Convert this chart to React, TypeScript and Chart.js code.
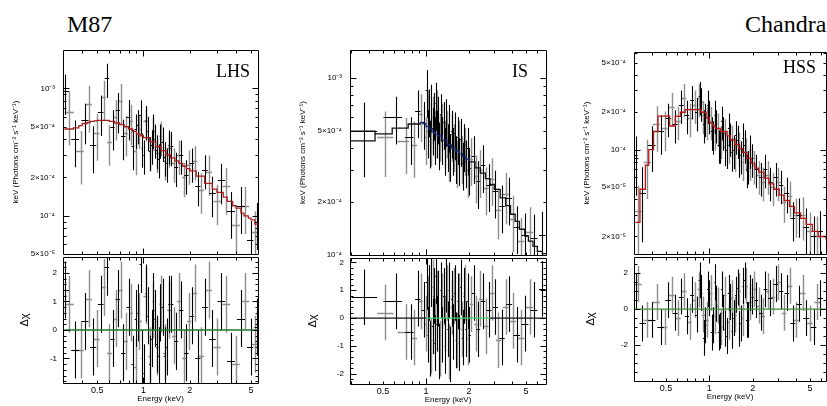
import React, { useEffect, useRef } from "react";
import { Chart, registerables } from "chart.js";

Chart.register(...registerables);

// ================= DATA =================
const xTickValues = [0.5, 1, 2, 5];
const xTickLabels = ["0.5", "1", "2", "5"];

// ---- LHS ----
const lhsXRange = [0.306, 5.55];
const lhsYRange = [5e-5, 2.0e-3];
const lhsResRange = [-1.86, 2.56];
const lhsYTicks = [5e-5, 1e-4, 2e-4, 5e-4, 1e-3];
const lhsYLabels = ["5×10⁻⁵", "10⁻⁴", "2×10⁻⁴", "5×10⁻⁴", "10⁻³"];
const lhsResTicks = [-1, 0, 1, 2];
const lhsResLabels = ["-1", "0", "1", "2"];

const lhsBlackE = [0.31, 0.36, 0.42, 0.47, 0.53, 0.58, 0.63, 0.68, 0.74, 0.8, 0.86, 0.89, 0.92, 0.96, 0.98, 1.01, 1.04, 1.07, 1.1, 1.13, 1.16, 1.19, 1.22, 1.26, 1.29, 1.33, 1.37, 1.42, 1.47, 1.52, 1.63, 1.76, 1.9, 2.06, 2.25, 2.5, 2.8, 3.2, 3.7, 4.3, 5.0, 5.45];
const lhsBlackF = [9.5e-4, 4.0e-4, 5.6e-4, 3.6e-4, 6.5e-4, 1.2e-3, 5.0e-4, 6.8e-4, 4.2e-4, 6.0e-4, 3.5e-4, 4.8e-4, 5.2e-4, 6.2e-4, 3.4e-4, 3.0e-4, 5.6e-4, 4.6e-4, 3.2e-4, 3.6e-4, 4.8e-4, 4.0e-4, 3.3e-4, 2.8e-4, 4.0e-4, 3.8e-4, 2.9e-4, 2.6e-4, 3.6e-4, 3.5e-4, 2.4e-4, 3.0e-4, 2.1e-4, 2.6e-4, 1.7e-4, 2.3e-4, 1.5e-4, 1.9e-4, 1.1e-4, 1.2e-4, 6.5e-5, 9.0e-5];
const lhsBlackErr = [0.35, 0.4, 0.35, 0.4, 0.35, 0.3, 0.35, 0.35, 0.35, 0.35, 0.35, 0.3, 0.3, 0.3, 0.3, 0.3, 0.3, 0.3, 0.3, 0.3, 0.3, 0.3, 0.3, 0.3, 0.3, 0.3, 0.3, 0.3, 0.3, 0.3, 0.3, 0.3, 0.3, 0.3, 0.3, 0.3, 0.35, 0.35, 0.4, 0.4, 0.4, 0.4];
const lhsBlackRes = [1.4, -0.7, 0.3, -0.6, 0.9, 2.2, -0.3, 1.1, -0.8, 0.8, -1.2, 0.4, 0.6, 2.3, -1.0, -1.5, 1.3, 0.5, -1.2, -0.3, 1.0, 0.4, -0.5, -0.9, 0.6, 0.8, -0.9, -0.6, 0.9, 0.9, -0.4, 0.7, -0.8, 0.5, -1.0, 0.8, -0.3, 1.0, -1.1, 0.4, -0.6, 0.1];

const lhsGrayE = [0.33, 0.39, 0.44, 0.5, 0.55, 0.6, 0.66, 0.71, 0.77, 0.83, 0.89, 0.94, 1.04, 1.1, 1.16, 1.23, 1.3, 1.37, 1.47, 1.57, 1.7, 1.83, 1.98, 2.15, 2.37, 2.65, 3.0, 3.45, 4.0, 4.6, 5.3];
const lhsGrayF = [6.5e-4, 3.2e-4, 7.5e-4, 4.5e-4, 8.5e-4, 3.8e-4, 6.0e-4, 8.0e-4, 4.5e-4, 5.5e-4, 3.2e-4, 4.8e-4, 5.5e-4, 3.2e-4, 4.6e-4, 3.1e-4, 4.2e-4, 2.7e-4, 3.4e-4, 2.6e-4, 3.0e-4, 2.0e-4, 2.5e-4, 2.7e-4, 1.6e-4, 2.2e-4, 1.3e-4, 1.7e-4, 8.5e-5, 1.2e-4, 7.5e-5];
const lhsGrayErr = [0.45, 0.45, 0.4, 0.4, 0.35, 0.35, 0.35, 0.35, 0.35, 0.35, 0.35, 0.3, 0.3, 0.3, 0.3, 0.3, 0.3, 0.3, 0.3, 0.3, 0.3, 0.3, 0.3, 0.3, 0.35, 0.35, 0.35, 0.4, 0.4, 0.4, 0.45];
const lhsGrayRes = [0.9, -0.7, 1.1, -0.3, 1.5, -0.8, 0.4, 1.4, -0.4, 0.6, -1.3, 0.3, 1.2, -0.9, 0.7, -0.6, 0.9, -0.8, 0.7, -0.2, 1.0, -1.0, 0.3, 1.3, -0.9, 1.4, -0.6, 0.9, -1.2, 1.0, -0.5];

const lhsModelE = [0.306, 0.33, 0.35, 0.38, 0.4, 0.43, 0.45, 0.48, 0.5, 0.55, 0.6, 0.65, 0.7, 0.75, 0.8, 0.85, 0.9, 0.95, 1.0, 1.1, 1.2, 1.3, 1.4, 1.5, 1.6, 1.7, 1.8, 1.9, 2.0, 2.2, 2.5, 2.8, 3.0, 3.3, 3.5, 3.8, 4.0, 4.3, 4.5, 4.8, 5.0, 5.3, 5.55];
const lhsModelF = [4.8e-4, 4.8e-4, 4.9e-4, 5.1e-4, 5.3e-4, 5.4e-4, 5.5e-4, 5.55e-4, 5.6e-4, 5.6e-4, 5.5e-4, 5.35e-4, 5.2e-4, 5.0e-4, 4.8e-4, 4.6e-4, 4.4e-4, 4.25e-4, 4.1e-4, 3.8e-4, 3.5e-4, 3.25e-4, 3.0e-4, 2.85e-4, 2.7e-4, 2.58e-4, 2.45e-4, 2.35e-4, 2.25e-4, 2.05e-4, 1.8e-4, 1.62e-4, 1.53e-4, 1.4e-4, 1.3e-4, 1.2e-4, 1.15e-4, 1.05e-4, 1.0e-4, 9.6e-5, 9.3e-5, 8.6e-5, 8.6e-5];

// ---- IS ----
const isXRange = [0.294, 6.9];
const isYRange = [1e-4, 1.43e-3];
const isResRange = [-2.37, 2.16];
const isYTicks = [1e-4, 2e-4, 5e-4, 1e-3];
const isYLabels = ["10⁻⁴", "2×10⁻⁴", "5×10⁻⁴", "10⁻³"];
const isResTicks = [-2, -1, 0, 1, 2];
const isResLabels = ["-2", "-1", "0", "1", "2"];

const isBlackE = [0.37, 0.62, 0.78, 0.88, 0.97, 1.01, 1.03, 1.05, 1.07, 1.09, 1.11, 1.13, 1.15, 1.17, 1.19, 1.21, 1.24, 1.27, 1.3, 1.33, 1.36, 1.39, 1.42, 1.45, 1.48, 1.51, 1.55, 1.59, 1.63, 1.67, 1.71, 1.75, 1.8, 1.85, 1.9, 1.95, 2.0, 2.15, 2.32, 2.5, 2.75, 3.05, 3.4, 3.8, 4.3, 4.9, 5.7, 6.5];
const isBlackF = [5.0e-4, 6.0e-4, 4.6e-4, 6.5e-4, 5.6e-4, 8.5e-4, 5.0e-4, 6.6e-4, 4.4e-4, 7.0e-4, 5.2e-4, 6.3e-4, 4.6e-4, 7.2e-4, 5.0e-4, 6.0e-4, 4.3e-4, 6.2e-4, 4.6e-4, 5.6e-4, 4.0e-4, 5.8e-4, 4.2e-4, 5.4e-4, 3.7e-4, 5.0e-4, 4.0e-4, 4.9e-4, 3.6e-4, 4.6e-4, 3.5e-4, 4.5e-4, 3.3e-4, 4.2e-4, 3.4e-4, 4.0e-4, 3.1e-4, 3.6e-4, 2.6e-4, 3.2e-4, 2.5e-4, 2.3e-4, 1.9e-4, 2.1e-4, 1.45e-4, 1.3e-4, 1.25e-4, 1.3e-4];
const isBlackErr = [0.45, 0.3, 0.3, 0.3, 0.3, 0.3, 0.3, 0.3, 0.3, 0.3, 0.3, 0.3, 0.3, 0.3, 0.3, 0.3, 0.3, 0.3, 0.3, 0.3, 0.3, 0.3, 0.3, 0.3, 0.3, 0.3, 0.3, 0.3, 0.3, 0.3, 0.3, 0.3, 0.3, 0.3, 0.3, 0.3, 0.3, 0.3, 0.3, 0.3, 0.3, 0.3, 0.3, 0.3, 0.3, 0.32, 0.35, 0.35];
const isBlackRes = [0.75, 0.6, -0.5, 0.7, 0.3, 1.3, -0.6, 0.9, -1.1, 1.4, -0.3, 0.8, -0.9, 1.5, -0.2, 0.7, -1.2, 1.0, -0.6, 0.8, -1.0, 1.2, -0.4, 1.0, -1.3, 0.7, -0.5, 0.9, -0.8, 0.6, -0.9, 1.1, -0.7, 0.8, -0.4, 0.6, -0.6, 0.9, -0.4, 0.6, 0.3, 0.4, -0.7, 0.5, -0.6, -0.2, 0.3, 1.05];

const isGrayE = [0.52, 0.72, 0.83, 0.92, 1.0, 1.04, 1.08, 1.12, 1.16, 1.2, 1.25, 1.3, 1.35, 1.4, 1.45, 1.51, 1.57, 1.64, 1.71, 1.78, 1.86, 1.95, 2.07, 2.23, 2.4, 2.62, 2.9, 3.2, 3.6, 4.05, 4.6, 5.3];
const isGrayF = [4.6e-4, 4.4e-4, 4.2e-4, 6.2e-4, 4.6e-4, 6.5e-4, 4.5e-4, 6.0e-4, 5.0e-4, 6.5e-4, 4.8e-4, 5.5e-4, 4.4e-4, 5.0e-4, 3.7e-4, 4.8e-4, 4.2e-4, 3.4e-4, 4.4e-4, 3.6e-4, 4.0e-4, 3.0e-4, 3.5e-4, 2.8e-4, 3.0e-4, 2.4e-4, 2.7e-4, 1.8e-4, 2.2e-4, 1.6e-4, 1.2e-4, 1.35e-4];
const isGrayErr = [0.4, 0.35, 0.35, 0.3, 0.3, 0.3, 0.3, 0.3, 0.3, 0.3, 0.3, 0.3, 0.3, 0.3, 0.3, 0.3, 0.3, 0.3, 0.3, 0.3, 0.3, 0.3, 0.3, 0.3, 0.3, 0.3, 0.3, 0.32, 0.32, 0.35, 0.35, 0.38];
const isGrayRes = [0.2, -0.5, -0.7, 0.6, -0.2, 0.5, -1.0, 1.1, -0.3, 0.7, -1.1, 0.6, -0.2, 0.9, -1.2, 0.4, 0.8, -0.8, 0.6, -0.4, 0.9, -0.7, 0.5, -0.2, 0.7, -0.3, 0.9, -0.8, 0.4, -0.1, -0.7, 0.4];

const isModelE = [0.294, 0.44, 0.58, 0.75, 0.91, 0.95, 1.0, 1.05, 1.1, 1.15, 1.2, 1.3, 1.4, 1.5, 1.6, 1.7, 1.8, 1.9, 2.0, 2.2, 2.4, 2.6, 2.8, 3.0, 3.3, 3.6, 3.9, 4.2, 4.5, 4.9, 5.2, 5.6, 6.0, 6.5, 6.9];
const isModelF = [5.0e-4, 4.82e-4, 5.2e-4, 5.48e-4, 5.6e-4, 5.5e-4, 5.3e-4, 5.15e-4, 4.95e-4, 4.8e-4, 4.7e-4, 4.45e-4, 4.2e-4, 4.0e-4, 3.85e-4, 3.72e-4, 3.6e-4, 3.47e-4, 3.35e-4, 3.1e-4, 2.9e-4, 2.7e-4, 2.5e-4, 2.35e-4, 2.1e-4, 1.9e-4, 1.7e-4, 1.55e-4, 1.4e-4, 1.28e-4, 1.2e-4, 1.12e-4, 1.05e-4, 1.02e-4, 1.02e-4];
const isModel2E = [0.294, 0.44];
const isModel2F = [4.4e-4, 4.82e-4];
const isBlueBand = [0.91, 2.0];
const isGreenBand = [1.0, 2.8];

// ---- HSS ----
const hssXRange = [0.306, 6.46];
const hssYRange = [1.44e-5, 6.11e-4];
const hssResRange = [-4.0, 2.9];
const hssYTicks = [2e-5, 5e-5, 1e-4, 2e-4, 5e-4];
const hssYLabels = ["2×10⁻⁵", "5×10⁻⁵", "10⁻⁴", "2×10⁻⁴", "5×10⁻⁴"];
const hssResTicks = [-2, 0, 2];
const hssResLabels = ["-2", "0", "2"];

const hssBlackE = [0.31, 0.34, 0.4, 0.46, 0.52, 0.58, 0.64, 0.7, 0.76, 0.82, 0.86, 0.88, 0.92, 0.94, 0.98, 1.0, 1.04, 1.06, 1.1, 1.12, 1.16, 1.18, 1.22, 1.25, 1.29, 1.32, 1.36, 1.4, 1.44, 1.48, 1.53, 1.57, 1.62, 1.66, 1.72, 1.76, 1.82, 1.87, 1.93, 1.98, 2.12, 2.28, 2.45, 2.65, 2.9, 3.15, 3.45, 3.8, 4.2, 4.7, 5.3, 5.9];
const hssBlackF = [8.5e-5, 4.5e-5, 1.1e-4, 1.4e-4, 1.8e-4, 1.6e-4, 2.3e-4, 1.9e-4, 2.5e-4, 2.0e-4, 2.7e-4, 2.4e-4, 1.6e-4, 1.8e-4, 2.3e-4, 1.9e-4, 1.4e-4, 1.3e-4, 1.9e-4, 1.6e-4, 1.1e-4, 1.1e-4, 1.7e-4, 1.4e-4, 1.05e-4, 1.0e-4, 1.5e-4, 1.25e-4, 9.5e-5, 1.0e-4, 1.3e-4, 1.2e-4, 8.5e-5, 9.0e-5, 1.25e-4, 1.1e-4, 7.0e-5, 7.5e-5, 1.0e-4, 8.5e-5, 7.0e-5, 6.0e-5, 7.0e-5, 5.5e-5, 6.0e-5, 5.2e-5, 4.5e-5, 2.8e-5, 3.0e-5, 2.4e-5, 2.0e-5, 2.2e-5];
const hssBlackErr = [0.5, 0.6, 0.4, 0.35, 0.3, 0.3, 0.3, 0.3, 0.3, 0.3, 0.3, 0.3, 0.3, 0.3, 0.3, 0.3, 0.3, 0.3, 0.3, 0.3, 0.3, 0.3, 0.3, 0.3, 0.3, 0.3, 0.3, 0.3, 0.3, 0.3, 0.3, 0.3, 0.3, 0.3, 0.3, 0.3, 0.3, 0.3, 0.3, 0.3, 0.3, 0.3, 0.3, 0.3, 0.3, 0.3, 0.32, 0.35, 0.35, 0.4, 0.45, 0.45];
const hssBlackRes = [1.0, -0.8, -0.6, -1.0, 0.5, -0.2, 0.7, -0.4, 0.8, -0.3, 1.6, 0.9, -1.6, -0.9, 1.1, 0.6, -1.3, -0.9, 1.5, 0.3, -1.3, -1.2, 1.1, -0.2, -1.1, -1.5, 0.9, 0.4, -1.2, -0.5, 0.8, 1.2, -1.1, -0.8, 1.3, 1.6, -0.6, -0.6, 0.9, 0.7, 0.5, -0.2, 1.1, 0.6, 1.4, 1.0, 0.9, -0.8, 0.3, -0.5, -1.0, 0.6];

const hssGrayE = [0.32, 0.37, 0.43, 0.49, 0.55, 0.61, 0.67, 0.73, 0.79, 0.85, 0.91, 0.97, 1.03, 1.09, 1.15, 1.21, 1.29, 1.36, 1.44, 1.52, 1.61, 1.71, 1.81, 1.92, 2.05, 2.2, 2.36, 2.55, 2.77, 3.02, 3.3, 3.62, 4.0, 4.45, 5.0, 5.6];
const hssGrayF = [3.2e-5, 8.0e-5, 1.6e-4, 1.5e-4, 2.2e-4, 1.7e-4, 2.6e-4, 1.8e-4, 2.3e-4, 2.6e-4, 1.9e-4, 1.7e-4, 1.7e-4, 1.4e-4, 1.5e-4, 1.2e-4, 1.35e-4, 1.1e-4, 1.2e-4, 9.5e-5, 1.05e-4, 8.0e-5, 9.5e-5, 8.0e-5, 7.5e-5, 6.2e-5, 5.5e-5, 6.2e-5, 5.0e-5, 5.5e-5, 3.8e-5, 4.2e-5, 3.0e-5, 3.0e-5, 2.2e-5, 2.0e-5];
const hssGrayErr = [0.6, 0.5, 0.4, 0.35, 0.3, 0.3, 0.3, 0.3, 0.3, 0.3, 0.3, 0.3, 0.3, 0.3, 0.3, 0.3, 0.3, 0.3, 0.3, 0.3, 0.3, 0.3, 0.3, 0.3, 0.3, 0.3, 0.3, 0.3, 0.3, 0.3, 0.32, 0.32, 0.35, 0.38, 0.42, 0.45];
const hssGrayRes = [1.4, -0.6, 0.4, -1.0, 0.8, -0.5, 1.0, -0.7, 0.5, 1.1, -0.3, -0.6, 0.9, -0.4, 0.2, -1.0, 0.8, -0.7, 0.6, -0.3, 1.0, -0.5, 1.3, 0.4, 1.1, 0.2, -0.4, 1.0, 0.7, 1.5, -0.2, 1.3, -0.6, 0.9, -0.8, 0.4];

const hssModelE = [0.306, 0.33, 0.36, 0.38, 0.41, 0.44, 0.53, 0.58, 0.63, 0.68, 0.72, 0.8, 0.88, 0.95, 1.0, 1.05, 1.1, 1.2, 1.33, 1.4, 1.5, 1.6, 1.7, 1.82, 1.95, 2.07, 2.2, 2.4, 2.6, 2.8, 3.06, 3.3, 3.6, 3.9, 4.3, 4.7, 5.2, 5.7, 6.46];
const hssModelF = [2.6e-5, 4.8e-5, 7.5e-5, 1.0e-4, 1.4e-4, 1.86e-4, 1.55e-4, 1.85e-4, 2.0e-4, 2.1e-4, 2.1e-4, 2.1e-4, 2.0e-4, 1.8e-4, 1.65e-4, 1.55e-4, 1.48e-4, 1.4e-4, 1.29e-4, 1.2e-4, 1.1e-4, 1.02e-4, 9.5e-5, 8.5e-5, 7.8e-5, 7.1e-5, 6.6e-5, 5.9e-5, 5.3e-5, 4.8e-5, 4.3e-5, 3.9e-5, 3.5e-5, 3.1e-5, 2.8e-5, 2.5e-5, 2.2e-5, 2.0e-5, 1.9e-5];

// ================= STYLE =================
const SANS = '"Liberation Sans", Arial, Helvetica, sans-serif';
const SERIF = '"Liberation Serif", "Times New Roman", serif';
const GRAY = "#8e8e8e";
const BLACK = "#000000";
const YTITLE = "keV (Photons cm⁻² s⁻¹ keV⁻¹)";
const AXIS_W = 60;
const XAXIS_H = 22;

// ================= HELPERS =================
function binEdges(E: number[], i: number): [number, number] {
  const n = E.length;
  const gl = i > 0 ? E[i] / E[i - 1] : E[i + 1] / E[i];
  const gr = i < n - 1 ? E[i + 1] / E[i] : E[i] / E[i - 1];
  return [E[i] / Math.pow(gl, 0.4), E[i] * Math.pow(gr, 0.4)];
}
function specPoints(E: number[], F: number[], err: number[]) {
  return E.map((e, i) => {
    const [xl, xh] = binEdges(E, i);
    return { x: e, y: F[i], yl: F[i] * (1 - err[i]), yh: F[i] * (1 + err[i]), xl, xh };
  });
}
function resPoints(E: number[], R: number[]) {
  return E.map((e, i) => {
    const [xl, xh] = binEdges(E, i);
    return { x: e, y: R[i], yl: R[i] - 1, yh: R[i] + 1, xl, xh };
  });
}
function linePoints(E: number[], F: number[]) {
  return E.map((e, i) => ({ x: e, y: F[i] }));
}

const errorBarPlugin = {
  id: "errbars",
  beforeDatasetsDraw(chart: any) {
    const { ctx, chartArea: a, scales } = chart;
    const xs = scales.x, ys = scales.y;
    ctx.save();
    ctx.beginPath();
    ctx.rect(a.left, a.top, a.right - a.left, a.bottom - a.top);
    ctx.clip();
    chart.data.datasets.forEach((ds: any) => {
      if (!ds.errorBars) return;
      ctx.strokeStyle = ds.borderColor;
      ctx.lineWidth = ds.barWidth || 1;
      ctx.beginPath();
      for (const p of ds.data) {
        const px = Math.round(xs.getPixelForValue(p.x)) + 0.5;
        const py = Math.round(ys.getPixelForValue(p.y)) + 0.5;
        ctx.moveTo(px, ys.getPixelForValue(p.yl));
        ctx.lineTo(px, ys.getPixelForValue(p.yh));
        ctx.moveTo(xs.getPixelForValue(p.xl), py);
        ctx.lineTo(xs.getPixelForValue(p.xh), py);
      }
      ctx.stroke();
    });
    ctx.restore();
  },
};

function logTickList(min: number, max: number) {
  const out: { v: number; major: boolean }[] = [];
  for (let d = Math.floor(Math.log10(min)); d <= Math.ceil(Math.log10(max)); d++) {
    for (let m = 1; m <= 9; m++) {
      const v = m * Math.pow(10, d);
      if (v > min * 1.0001 && v < max * 0.9999) out.push({ v, major: m === 1 });
    }
  }
  return out;
}
function linTickList(min: number, max: number, minor: number, major: number) {
  const out: { v: number; major: boolean }[] = [];
  for (let k = Math.ceil(min / minor); k <= Math.floor(max / minor); k++) {
    const v = k * minor;
    const r = v / major;
    out.push({ v, major: Math.abs(r - Math.round(r)) < 1e-6 });
  }
  return out;
}

const framePlugin = {
  id: "frame",
  afterDraw(chart: any, _args: any, opts: any) {
    const { ctx, chartArea: a, scales } = chart;
    const xs = scales.x, ys = scales.y;
    const L = Math.round(a.left) + 0.5;
    const R = Math.round(a.right) + 0.5;
    const T = Math.round(a.top) + 0.5;
    const B = Math.round(a.bottom) + 0.5;
    ctx.save();
    ctx.strokeStyle = "#000";
    ctx.lineWidth = 1;
    ctx.beginPath();
    ctx.rect(L, T, R - L, B - T);
    for (const t of logTickList(xs.min, xs.max)) {
      const px = Math.round(xs.getPixelForValue(t.v)) + 0.5;
      const len = t.major ? 6 : 3;
      ctx.moveTo(px, T);
      ctx.lineTo(px, T + len);
      ctx.moveTo(px, B);
      ctx.lineTo(px, B - len);
    }
    const yt = opts.yLog ? logTickList(ys.min, ys.max) : linTickList(ys.min, ys.max, opts.minor, opts.major);
    for (const t of yt) {
      const py = Math.round(ys.getPixelForValue(t.v)) + 0.5;
      const len = t.major ? 6 : 3;
      ctx.moveTo(L, py);
      ctx.lineTo(L + len, py);
      ctx.moveTo(R, py);
      ctx.lineTo(R - len, py);
    }
    ctx.stroke();
    ctx.restore();
  },
};

function xScale(range: number[], show: boolean) {
  const s: any = {
    type: "logarithmic",
    min: range[0],
    max: range[1],
    display: show,
    afterBuildTicks: (ax: any) => {
      ax.ticks = xTickValues.map((v) => ({ value: v }));
    },
    ticks: {
      autoSkip: false,
      maxRotation: 0,
      padding: 0,
      color: "#000",
      font: { family: SANS, size: 9 },
      callback: (_v: any, i: number) => xTickLabels[i],
    },
    grid: { display: true, drawOnChartArea: false, drawTicks: true, tickLength: 2, color: "rgba(0,0,0,0)" },
    border: { display: false },
    title: {
      display: show,
      text: "Energy (keV)",
      color: "#000",
      font: { family: SANS, size: 8 },
      padding: { top: 0, bottom: 1 },
    },
  };
  if (show) {
    s.afterFit = (ax: any) => {
      ax.height = XAXIS_H;
    };
  }
  return s;
}

function yScale(type: string, range: number[], ticks: number[], labels: string[], title: string, titleSize: number, titlePad: number, tickLen: number) {
  return {
    type,
    min: range[0],
    max: range[1],
    afterBuildTicks: (ax: any) => {
      ax.ticks = ticks.map((v) => ({ value: v }));
    },
    ticks: {
      autoSkip: false,
      padding: 0,
      color: "#000",
      font: { family: SANS, size: 8 },
      callback: (_v: any, i: number) => labels[i],
    },
    grid: { display: true, drawOnChartArea: false, drawTicks: true, tickLength: tickLen, color: "rgba(0,0,0,0)" },
    border: { display: false },
    title: {
      display: true,
      text: title,
      color: "#000",
      font: { family: SANS, size: titleSize },
      padding: { top: titlePad, bottom: 0 },
    },
    afterFit: (ax: any) => {
      ax.width = AXIS_W;
    },
  };
}

function baseOptions(padding: any) {
  return {
    responsive: false,
    animation: false,
    events: [],
    layout: { padding },
  };
}

type PanelDef = {
  xRange: number[];
  yRange: number[];
  yTicks: number[];
  yLabels: string[];
  resRange: number[];
  resTicks: number[];
  resLabels: string[];
  black: [number[], number[], number[], number[]];
  gray: [number[], number[], number[], number[]];
  models: { E: number[]; F: number[]; color: string; band?: number[]; bandColor?: string }[];
  zeroColor: string;
  zeroBase: string;
  zeroBand: number[];
  resMinor: number;
  resMajor: number;
  geom: { plotL: number; plotR: number; top: number; mid: number; bot: number; dchiOff: number };
};

const PANELS: PanelDef[] = [
  {
    xRange: lhsXRange, yRange: lhsYRange, yTicks: lhsYTicks, yLabels: lhsYLabels,
    resRange: lhsResRange, resTicks: lhsResTicks, resLabels: lhsResLabels,
    black: [lhsBlackE, lhsBlackF, lhsBlackErr, lhsBlackRes],
    gray: [lhsGrayE, lhsGrayF, lhsGrayErr, lhsGrayRes],
    models: [{ E: lhsModelE, F: lhsModelF, color: "#a8201e" }],
    zeroColor: "#1f7a2a", zeroBase: "#1f7a2a", zeroBand: [lhsXRange[0], lhsXRange[1]],
    resMinor: 0.2, resMajor: 1,
    geom: { plotL: 63, plotR: 258, top: 50, mid: 257, bot: 383, dchiOff: 38 },
  },
  {
    xRange: isXRange, yRange: isYRange, yTicks: isYTicks, yLabels: isYLabels,
    resRange: isResRange, resTicks: isResTicks, resLabels: isResLabels,
    black: [isBlackE, isBlackF, isBlackErr, isBlackRes],
    gray: [isGrayE, isGrayF, isGrayErr, isGrayRes],
    models: [
      { E: isModelE, F: isModelF, color: "#111111", band: isBlueBand, bandColor: "#1a2a7a" },
      { E: isModel2E, F: isModel2F, color: "#111111" },
    ],
    zeroColor: "#3fcf6a", zeroBase: "#111111", zeroBand: isGreenBand,
    resMinor: 0.2, resMajor: 1,
    geom: { plotL: 350, plotR: 546, top: 50, mid: 258, bot: 384, dchiOff: 37 },
  },
  {
    xRange: hssXRange, yRange: hssYRange, yTicks: hssYTicks, yLabels: hssYLabels,
    resRange: hssResRange, resTicks: hssResTicks, resLabels: hssResLabels,
    black: [hssBlackE, hssBlackF, hssBlackErr, hssBlackRes],
    gray: [hssGrayE, hssGrayF, hssGrayErr, hssGrayRes],
    models: [{ E: hssModelE, F: hssModelF, color: "#b81414" }],
    zeroColor: "#3a8f3a", zeroBase: "#3a8f3a", zeroBand: [hssXRange[0], hssXRange[1]],
    resMinor: 0.5, resMajor: 2,
    geom: { plotL: 634, plotR: 826, top: 52, mid: 257, bot: 381, dchiOff: 43 },
  },
];

function topConfig(p: PanelDef): any {
  const modelSets = p.models.map((m) => ({
    data: linePoints(m.E, m.F),
    showLine: true,
    stepped: true,
    borderColor: m.color,
    borderWidth: 1.3,
    pointRadius: 0,
    segment: m.band
      ? {
          borderColor: (c: any) =>
            c.p0.parsed.x >= m.band![0] - 1e-9 && c.p0.parsed.x < m.band![1] - 1e-9 ? m.bandColor : undefined,
        }
      : undefined,
  }));
  return {
    type: "scatter",
    data: {
      datasets: [
        ...modelSets,
        { data: specPoints(p.gray[0], p.gray[1], p.gray[2]), errorBars: true, barWidth: 1.4, borderColor: GRAY, pointRadius: 0, showLine: false },
        { data: specPoints(p.black[0], p.black[1], p.black[2]), errorBars: true, barWidth: 1.1, borderColor: BLACK, pointRadius: 0, showLine: false },
      ],
    },
    options: {
      ...baseOptions({ top: 10, bottom: 2, left: 0, right: 3 }),
      scales: {
        x: xScale(p.xRange, false),
        y: yScale("logarithmic", p.yRange, p.yTicks, p.yLabels, YTITLE, 8, AXIS_W - 47 - 4.8, 8),
      },
      plugins: {
        legend: { display: false },
        tooltip: { enabled: false },
        frame: { yLog: true },
      },
    },
    plugins: [errorBarPlugin, framePlugin],
  };
}

function bottomConfig(p: PanelDef): any {
  const zx = [p.xRange[0], p.zeroBand[0], p.zeroBand[1], p.xRange[1]];
  return {
    type: "scatter",
    data: {
      datasets: [
        {
          data: zx.map((x) => ({ x, y: 0 })),
          showLine: true,
          borderColor: p.zeroBase,
          borderWidth: 1.3,
          pointRadius: 0,
          segment: {
            borderColor: (c: any) =>
              c.p0.parsed.x >= p.zeroBand[0] - 1e-9 && c.p1.parsed.x <= p.zeroBand[1] + 1e-9 ? p.zeroColor : undefined,
          },
        },
        { data: resPoints(p.gray[0], p.gray[3]), errorBars: true, barWidth: 1.4, borderColor: GRAY, pointRadius: 0, showLine: false },
        { data: resPoints(p.black[0], p.black[3]), errorBars: true, barWidth: 1.1, borderColor: BLACK, pointRadius: 0, showLine: false },
      ],
    },
    options: {
      ...baseOptions({ top: 10, bottom: 0, left: 0, right: 3 }),
      scales: {
        x: xScale(p.xRange, true),
        y: yScale("linear", p.resRange, p.resTicks, p.resLabels, "Δχ", 11, AXIS_W - p.geom.dchiOff - 6.6, 6),
      },
      plugins: {
        legend: { display: false },
        tooltip: { enabled: false },
        frame: { yLog: false, minor: p.resMinor, major: p.resMajor },
      },
    },
    plugins: [errorBarPlugin, framePlugin],
  };
}

function ChartCanvas({ left, top, width, height, make }: { left: number; top: number; width: number; height: number; make: () => any }) {
  const ref = useRef<HTMLCanvasElement | null>(null);
  useEffect(() => {
    const chart = new Chart(ref.current as HTMLCanvasElement, make());
    return () => chart.destroy();
  }, []);
  return (
    <canvas
      ref={ref}
      width={width}
      height={height}
      style={{ position: "absolute", left, top, width, height, display: "block" }}
    />
  );
}

function label(text: string, left: number, top: number, size: number) {
  return (
    <div
      key={text}
      style={{
        position: "absolute",
        left,
        top,
        fontFamily: SERIF,
        fontSize: size,
        lineHeight: `${size}px`,
        color: "#000",
        whiteSpace: "nowrap",
      }}
    >
      {text}
    </div>
  );
}

export default function App() {
  return (
    <div
      style={{
        position: "absolute",
        left: 0,
        top: 0,
        width: 827,
        height: 406,
        overflow: "hidden",
        background: "#fff",
      }}
    >
      {PANELS.map((p, i) => {
        const g = p.geom;
        const w = AXIS_W + (g.plotR - g.plotL) + 3;
        return (
          <React.Fragment key={i}>
            <ChartCanvas
              left={g.plotL - AXIS_W}
              top={g.top - 10}
              width={w}
              height={g.mid - g.top + 12}
              make={() => topConfig(p)}
            />
            <ChartCanvas
              left={g.plotL - AXIS_W}
              top={g.mid - 10}
              width={w}
              height={g.bot - g.mid + 10 + XAXIS_H}
              make={() => bottomConfig(p)}
            />
          </React.Fragment>
        );
      })}
      {label("M87", 67, 12, 24)}
      {label("Chandra", 745, 12, 24)}
      {label("LHS", 216, 62, 18)}
      {label("IS", 512, 62, 18)}
      {label("HSS", 783, 58, 18)}
    </div>
  );
}
